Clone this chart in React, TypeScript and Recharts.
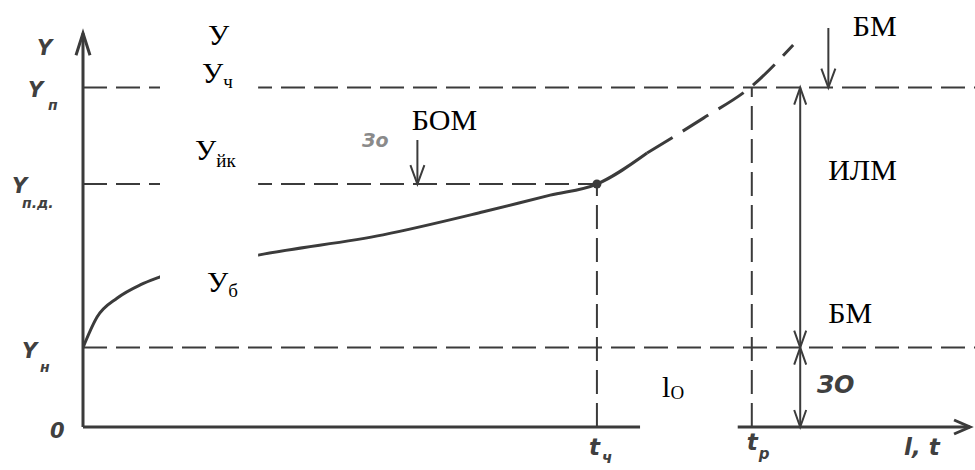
import React from "react";
import {
  ComposedChart,
  Line,
  XAxis,
  YAxis,
  ReferenceLine,
  ReferenceArea,
  ReferenceDot,
} from "recharts";

// curve of the quantity Y over time (solid part, then the extrapolated dashed part)
const solidT = [0, 1.6, 3.9, 6.5, 8.75, 19.9, 34.1, 45.5, 53.1, 58.4, 64.1];
const solidY = [20, 27.7, 32.5, 35.8, 37.8, 43.3, 48.4, 54.2, 58.4, 61.2, 69.0];
const dashT = [64.1, 70.5, 75.8, 80.7];
const dashY = [69.0, 77.8, 85.5, 96.2];

// levels and moments
const Y_N = 20;
const Y_PD = 61.2;
const Y_P = 85.5;
const T_CH = 58.4;
const T_R = 76.0;

const yTicks = [0, Y_N, Y_PD, Y_P];
const yTickMain = ["0", "Y", "Y", "Y"];
const yTickSub = ["", "н", "п.д.", "п"];
const xTicks = [T_CH, T_R];
const xTickMain = ["t", "t"];
const xTickSub = ["ч", "р"];

const solidData = solidT.map((t, i) => ({ t, y: solidY[i] }));
const dashData = dashT.map((t, i) => ({ t, y: dashY[i] }));

const INK = "#3b3b3b";
const HAND = "'DejaVu Sans', sans-serif";
const SERIF = "'Liberation Serif', 'Times New Roman', serif";
const X_END = 101.4;

const arrowShape =
  (heads: "start" | "end" | "both" | "none", len: number, half: number, sw: number, dash?: string) =>
  (p: any) => {
    const { x1, y1, x2, y2 } = p;
    const dx = x2 - x1;
    const dy = y2 - y1;
    const d = Math.hypot(dx, dy) || 1;
    const ux = dx / d;
    const uy = dy / d;
    const head = (tx: number, ty: number, vx: number, vy: number) =>
      `M${tx - vx * len - vy * half},${ty - vy * len + vx * half}L${tx},${ty}L${
        tx - vx * len + vy * half
      },${ty - vy * len - vx * half}`;
    let hd = "";
    if (heads === "end" || heads === "both") hd += head(x2, y2, ux, uy);
    if (heads === "start" || heads === "both") hd += head(x1, y1, -ux, -uy);
    return (
      <g>
        <line x1={x1} y1={y1} x2={x2} y2={y2} stroke={INK} strokeWidth={sw} strokeDasharray={dash} />
        {hd && <path d={hd} stroke={INK} strokeWidth={sw} fill="none" />}
      </g>
    );
  };

// where each hand-lettered tick label sits relative to its tick
const yTickLayout = [
  { mx: 50, my: 11, sx: 0, sy: 0 },
  { mx: 22, my: 10, sx: 40, sy: 24 },
  { mx: 12, my: 9, sx: 22, sy: 24 },
  { mx: 28, my: 9, sx: 48, sy: 22 },
];
const xTickLayout = [
  { mx: -8, my: 455, sx: 5, sy: 463 },
  { mx: -5, my: 450, sx: 7, sy: 459 },
];

const YTick = (props: any) => {
  const i = yTicks.indexOf(props.payload.value);
  if (i < 0) return null;
  const l = yTickLayout[i];
  return (
    <g fill="#404040" fontFamily={HAND} fontStyle="italic" fontWeight="bold">
      <text x={l.mx} y={props.y + l.my} fontSize={21}>
        {yTickMain[i]}
      </text>
      {yTickSub[i] && (
        <text x={l.sx} y={props.y + l.sy} fontSize={14}>
          {yTickSub[i]}
        </text>
      )}
    </g>
  );
};

const XTick = (props: any) => {
  const i = xTicks.indexOf(props.payload.value);
  if (i < 0) return null;
  const l = xTickLayout[i];
  return (
    <g fill="#404040" fontFamily={HAND} fontStyle="italic" fontWeight="bold">
      <text x={props.x + l.mx} y={l.my} fontSize={23}>
        {xTickMain[i]}
      </text>
      <text x={props.x + l.sx} y={l.sy} fontSize={15}>
        {xTickSub[i]}
      </text>
    </g>
  );
};

// white patches with printed captions laid over the scan
const boxes = [
  {
    x1: 8.75, x2: 19.9, y1: 24.4, y2: 102.5,
    texts: [
      { dx: 48, dy: 25, main: "У", sub: "", subDy: 0 },
      { dx: 42, dy: 63, main: "У", sub: "ч", subDy: 5 },
      { dx: 35, dy: 140, main: "У", sub: "йк", subDy: 7 },
      { dx: 47, dy: 272, main: "У", sub: "б", subDy: 5 },
    ],
  },
  { x1: 36.9, x2: 45.8, y1: 73.3, y2: 81.9, texts: [{ dx: 4, dy: 28, main: "БОМ", sub: "", subDy: 0 }] },
  { x1: 86.9, x2: 93.4, y1: 97.2, y2: 105.3, texts: [{ dx: 5, dy: 27, main: "БМ", sub: "", subDy: 0 }] },
  { x1: 84.0, x2: 93.8, y1: 60.2, y2: 70.3, texts: [{ dx: 6, dy: 32, main: "ИЛМ", sub: "", subDy: 0 }] },
  { x1: 84.0, x2: 90.6, y1: 25.0, y2: 33.2, texts: [{ dx: 6, dy: 28, main: "БМ", sub: "", subDy: 0 }] },
  { x1: 63.3, x2: 74.4, y1: -2.0, y2: 15.6, texts: [{ dx: 22, dy: 32, main: "l", sub: "O", subDy: 2 }] },
];

const boxLabel = (texts: (typeof boxes)[number]["texts"]) => (p: any) => {
  const vb = p.viewBox || {};
  return (
    <g fontFamily={SERIF} fill="#000">
      {texts.map((t, k) => (
        <text key={k} x={vb.x + t.dx} y={vb.y + t.dy} fontSize={30}>
          {t.main}
          {t.sub && (
            <tspan fontSize={19} dy={t.subDy}>
              {t.sub}
            </tspan>
          )}
        </text>
      ))}
    </g>
  );
};

const handText = (txt: string, size: number, color: string) => (p: any) => {
  const vb = p.viewBox || {};
  return (
    <text x={vb.x} y={vb.y} fontFamily={HAND} fontStyle="italic" fontWeight="bold" fontSize={size} fill={color}>
      {txt}
    </text>
  );
};

export default function App() {
  return (
    <div style={{ position: "absolute", left: 0, top: 0, background: "#fff" }}>
      <ComposedChart width={975} height={470} margin={{ top: 30, right: 12, left: 23, bottom: 13 }}>
        <XAxis
          type="number"
          dataKey="t"
          domain={[0, 100]}
          allowDataOverflow
          ticks={xTicks}
          tick={XTick}
          axisLine={false}
          tickLine={false}
          height={30}
          label={{
            content: () => (
              <text x={904} y={455} fontFamily={HAND} fontStyle="italic" fontWeight="bold" fontSize={23} fill="#404040">
                l, t
              </text>
            ),
          }}
        />
        <YAxis
          type="number"
          domain={[0, 100]}
          allowDataOverflow
          ticks={yTicks}
          tick={YTick}
          axisLine={false}
          tickLine={false}
          width={60}
          label={{
            content: () => (
              <text x={37} y={55} fontFamily={HAND} fontStyle="italic" fontWeight="bold" fontSize={21} fill="#404040">
                Y
              </text>
            ),
          }}
        />

        {/* dashed levels and moments */}
        <ReferenceLine segment={[{ x: 0, y: Y_P }, { x: X_END, y: Y_P }]} ifOverflow="visible" shape={arrowShape("none", 0, 0, 2, "24 9")} />
        <ReferenceLine segment={[{ x: 0, y: Y_PD }, { x: T_CH, y: Y_PD }]} ifOverflow="visible" shape={arrowShape("none", 0, 0, 2, "24 9")} />
        <ReferenceLine segment={[{ x: 0, y: Y_N }, { x: X_END, y: Y_N }]} ifOverflow="visible" shape={arrowShape("none", 0, 0, 2, "24 9")} />
        <ReferenceLine segment={[{ x: T_CH, y: 0 }, { x: T_CH, y: Y_PD }]} ifOverflow="visible" shape={arrowShape("none", 0, 0, 2, "24 9")} />
        <ReferenceLine segment={[{ x: T_R, y: 0 }, { x: T_R, y: Y_P }]} ifOverflow="visible" shape={arrowShape("none", 0, 0, 2, "24 9")} />

        {/* dimension arrows */}
        <ReferenceLine segment={[{ x: 38, y: 72.3 }, { x: 38, y: Y_PD }]} ifOverflow="visible" shape={arrowShape("end", 19, 7, 2)} />
        <ReferenceLine segment={[{ x: 84.7, y: 100.5 }, { x: 84.7, y: Y_P }]} ifOverflow="visible" shape={arrowShape("end", 19, 7, 2)} />
        <ReferenceLine segment={[{ x: 81.5, y: Y_P }, { x: 81.5, y: Y_N }]} ifOverflow="visible" shape={arrowShape("both", 17, 6, 2)} />
        <ReferenceLine segment={[{ x: 81.5, y: Y_N }, { x: 81.5, y: 0 }]} ifOverflow="visible" shape={arrowShape("both", 17, 6, 2)} />

        {/* axes */}
        <ReferenceLine segment={[{ x: 0, y: 0 }, { x: 0, y: 99.2 }]} ifOverflow="visible" shape={arrowShape("end", 22, 7, 3)} />
        <ReferenceLine segment={[{ x: 0, y: 0 }, { x: 100.8, y: 0 }]} ifOverflow="visible" shape={arrowShape("end", 16, 7, 3)} />

        <Line data={solidData} dataKey="y" type="monotone" stroke={INK} strokeWidth={3} dot={false} isAnimationActive={false} />
        <Line
          data={dashData}
          dataKey="y"
          type="monotone"
          stroke={INK}
          strokeWidth={3}
          strokeDasharray="30 12"
          dot={false}
          isAnimationActive={false}
        />
        <ReferenceDot x={T_CH} y={Y_PD} r={4.5} fill={INK} stroke="none" ifOverflow="visible" />

        {/* hand-lettered remnants */}
        <ReferenceDot x={83.4} y={8.6} r={0} ifOverflow="visible" label={{ content: handText("ЗО", 24, "#404040") }} />
        <ReferenceDot x={31.7} y={70.5} r={0} ifOverflow="visible" label={{ content: handText("Зо", 19, "#8a8a8a") }} />

        {boxes.map((b, i) => (
          <ReferenceArea
            key={i}
            x1={b.x1}
            x2={b.x2}
            y1={b.y1}
            y2={b.y2}
            fill="#fff"
            fillOpacity={1}
            stroke="none"
            ifOverflow="visible"
            zIndex={1500}
            label={{ content: boxLabel(b.texts) }}
          />
        ))}
      </ComposedChart>
    </div>
  );
}
